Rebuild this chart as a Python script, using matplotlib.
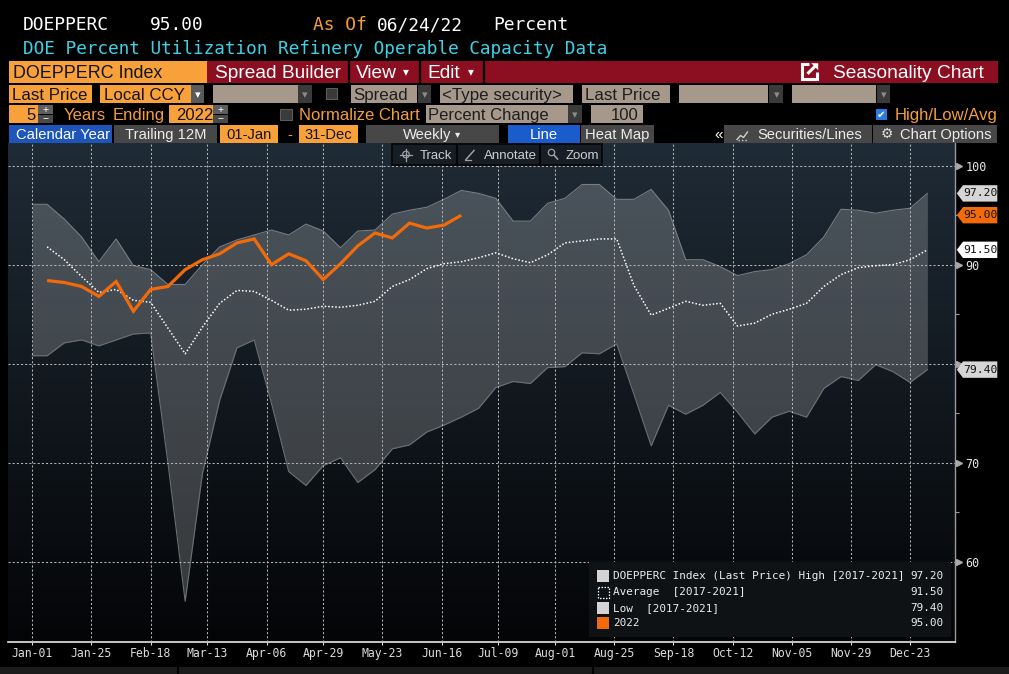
import numpy as np
import pandas as pd
import matplotlib
matplotlib.use("Agg")
import matplotlib.pyplot as plt
import matplotlib.dates as mdates
from matplotlib.patches import Rectangle, Polygon, Circle
from matplotlib.transforms import blended_transform_factory

plt.rcParams['font.family'] = ['Liberation Sans', 'DejaVu Sans']
MONO = ['DejaVu Sans Mono', 'DejaVu Sans']
SANS = ['Liberation Sans', 'DejaVu Sans']

# ---------------- data ----------------
ticker = "DOEPPERC"
last_value_text = "95.00"
title = "DOE Percent Utilization Refinery Operable Capacity Data"
as_of = "06/24/22"
units = "Percent"
first_week = "2022-01-07"
n_weeks = 52
band_start = "2022-01-01"
band_start_high = 96.1
band_start_low = 80.8

high_2017_2021 = [96.1, 94.6, 92.8, 90.3, 92.6, 89.9, 89.5, 88.0, 88.0, 90.0,
                  91.8, 92.5, 93.0, 93.5, 93.0, 94.1, 93.4, 91.7, 93.4, 93.5,
                  95.1, 95.5, 95.8, 96.6, 97.5, 97.2, 96.7, 94.4, 94.4, 96.2,
                  96.7, 98.1, 98.1, 96.6, 96.6, 97.6, 95.5, 90.5, 90.5, 89.8,
                  88.9, 89.3, 89.5, 90.1, 91.0, 92.8, 95.6, 95.5, 95.2, 95.5,
                  95.7, 97.2]
low_2017_2021 = [80.8, 82.1, 82.4, 81.8, 82.4, 83.0, 83.1, 70.0, 56.0, 68.9,
                 76.3, 81.6, 82.4, 76.0, 69.1, 67.7, 69.7, 70.5, 68.0, 69.3,
                 71.4, 71.8, 73.1, 73.8, 74.6, 75.5, 77.6, 78.2, 78.0, 79.6,
                 79.7, 81.1, 81.0, 82.0, 76.9, 71.7, 75.8, 74.9, 75.8, 77.1,
                 75.1, 72.9, 74.6, 75.2, 74.6, 77.5, 78.7, 78.3, 79.9, 79.2,
                 78.1, 79.4]
avg_2017_2021 = [91.8, 90.5, 88.8, 87.2, 87.5, 86.4, 86.2, 83.6, 81.0, 83.7,
                 86.1, 87.4, 87.3, 86.4, 85.4, 85.5, 85.8, 85.7, 85.9, 86.3,
                 87.8, 88.5, 89.6, 90.1, 90.3, 90.7, 91.2, 90.6, 90.2, 91.0,
                 92.2, 92.4, 92.6, 92.6, 87.9, 84.9, 85.6, 86.3, 85.9, 86.1,
                 83.8, 84.1, 85.0, 85.5, 86.1, 87.8, 89.0, 89.7, 89.9, 90.0,
                 90.5, 91.5]
y2022 = [88.4, 88.2, 87.8, 86.8, 88.3, 85.3, 87.5, 87.8, 89.5, 90.5,
         91.1, 92.2, 92.6, 90.0, 91.1, 90.4, 88.5, 90.1, 91.9, 93.2,
         92.7, 94.2, 93.7, 94.0, 95.0]

tick_dates = ["2022-01-01", "2022-01-25", "2022-02-18", "2022-03-13", "2022-04-06",
              "2022-04-29", "2022-05-23", "2022-06-16", "2022-07-09", "2022-08-01",
              "2022-08-25", "2022-09-18", "2022-10-12", "2022-11-05", "2022-11-29",
              "2022-12-23"]
tick_labels = ["Jan-01", "Jan-25", "Feb-18", "Mar-13", "Apr-06", "Apr-29", "May-23",
               "Jun-16", "Jul-09", "Aug-01", "Aug-25", "Sep-18", "Oct-12", "Nov-05",
               "Nov-29", "Dec-23"]
y_ticks = [60, 70, 80, 90, 100]
y_tick_labels = ["60", "70", "", "90", "100"]   # 80 is hidden behind the 79.40 tag
y_minor = [65, 75, 85, 95]
legend_labels = ["DOEPPERC Index (Last Price) High [2017-2021]", "Average  [2017-2021]",
                 "Low  [2017-2021]", "2022"]

# ---------------- figure ----------------
W, H = 1009, 674
fig = plt.figure(figsize=(W / 100, H / 100), dpi=100, facecolor='black')

L, R, T, B = 8, 955, 143, 642
ax = fig.add_axes([L / W, (H - B) / H, (R - L) / W, (B - T) / H])
ax.set_facecolor('black')

weeks = pd.date_range(first_week, periods=n_weeks, freq="7D")
band_dates = pd.DatetimeIndex([pd.Timestamp(band_start)]).append(weeks)
band_hi = [band_start_high] + high_2017_2021
band_lo = [band_start_low] + low_2017_2021

# gradient background
g = np.linspace(0, 1, 256)[:, None, None]
top = np.array([31, 43, 54]) / 255.0
bot = np.array([4, 5, 7]) / 255.0
img = top[None, None, :] * (1 - g) + bot[None, None, :] * g
ax.imshow(img, extent=[0, 1, 0, 1], transform=ax.transAxes, aspect='auto',
          zorder=0, interpolation='bilinear')

ax.fill_between(band_dates, band_lo, band_hi, color='white', alpha=0.2, lw=0, zorder=1)
ax.plot(band_dates, band_hi, color='#767d83', lw=0.8, zorder=1.5)
ax.plot(band_dates, band_lo, color='#6a7075', lw=0.8, zorder=1.5)
ax.plot(weeks, avg_2017_2021, color='white', lw=1.1, linestyle=(0, (1, 1.3)), zorder=4)
ax.plot(weeks[:len(y2022)], y2022, color='#f26a0a', lw=2.3, zorder=5,
        solid_joinstyle='miter', solid_capstyle='butt')

base = pd.Timestamp("2022-01-01")
ax.set_xlim(mdates.date2num(base - pd.Timedelta(days=9.85)),
            mdates.date2num(base + pd.Timedelta(days=374.2)))
ax.set_ylim(51.89, 102.29)

ax.set_xticks(mdates.date2num(pd.to_datetime(tick_dates)))
ax.set_xticklabels(tick_labels, family=MONO, fontsize=8.3, color='#e6e6e6')
ax.yaxis.tick_right()
ax.set_yticks(y_ticks)
ax.set_yticklabels(y_tick_labels, family=MONO, fontsize=8.5, color='#e6e6e6')
ax.set_yticks(y_minor, minor=True)
ax.tick_params(axis='x', colors='#dcdcdc', length=2.2, width=0.8, pad=1.3)
ax.tick_params(axis='y', which='major', length=0, pad=7.5)
ax.tick_params(axis='y', which='minor', length=3, width=0.8, colors='#9a9a9a')
ax.grid(True, which='major', color='#b4b4b4', linestyle=(0, (2, 2)), linewidth=0.75)
ax.set_axisbelow(False)
for s in ['top', 'left']:
    ax.spines[s].set_visible(False)
ax.spines['bottom'].set_color('#e6e6e6')
ax.spines['bottom'].set_linewidth(1.2)
ax.spines['right'].set_color('#9a9a9a')
ax.spines['right'].set_linewidth(1.0)

btr = blended_transform_factory(ax.transAxes, ax.transData)
ax.plot([1.0045] * len(y_ticks), y_ticks, linestyle='none', marker='>', markersize=5,
        color='#a8a8a8', transform=btr, clip_on=False, zorder=6)

# ---------------- overlay (UI) ----------------
ov = fig.add_axes([0, 0, 1, 1], zorder=10)
ov.set_xlim(0, W)
ov.set_ylim(H, 0)
ov.axis('off')
ov.patch.set_visible(False)

ORANGE = '#f8a13a'
TAN = '#a6998b'
RED = '#8b0e21'
GRAY = '#474747'
DARKARR = '#3a3a3a'


def box(x0, y0, x1, y1, fc, ec='none', lw=0, z=1):
    ov.add_patch(Rectangle((x0, y0), x1 - x0, y1 - y0, fc=fc, ec=ec, lw=lw, zorder=z))


def txt(x, y, s, size, color, ha='left', family=SANS, va='baseline', z=3):
    ov.text(x, y, s, fontsize=size, color=color, ha=ha, va=va, family=family, zorder=z)


def arrowbox(x0, x1, y0, y1, fc=DARKARR, ac='#8c8c8c'):
    box(x0, y0, x1, y1, fc)
    txt((x0 + x1) / 2, (y0 + y1) / 2 + 0.5, '\u25be', 8, ac, ha='center', va='center',
        family=['DejaVu Sans'])


def plusminus(x0, x1, y0, y1):
    ym = (y0 + y1) / 2
    box(x0, y0, x1, ym - 0.4, '#5e5e5e')
    box(x0, ym + 0.4, x1, y1, '#4a4a4a')
    txt((x0 + x1) / 2, (y0 + ym) / 2, '+', 7.5, 'white', ha='center', va='center')
    txt((x0 + x1) / 2, (ym + y1) / 2, '\u2212', 7.5, 'white', ha='center', va='center')


# Row 1 & 2 header
txt(22.7, 30, ticker, 12.9, 'white', family=MONO)
txt(150, 30, last_value_text, 12.9, 'white', family=MONO)
txt(312.7, 30, "As Of", 12.9, '#f59e3a', family=MONO)
txt(376.7, 30, as_of, 12.9, 'white', family=MONO)
txt(493, 30, units, 12.9, 'white', family=MONO)
txt(22.7, 54, title, 12.8, '#3fd0e6', family=MONO)

# Row 3
box(9, 60.7, 207.3, 82.7, ORANGE)
txt(12.7, 78.5, "DOEPPERC Index", 12.9, '#141414')
box(207.3, 60.7, 997.7, 82.7, RED)
for xs in [348.8, 420.2, 484.0]:
    ov.plot([xs, xs], [60.7, 82.7], color='black', lw=1.6, zorder=2)
txt(215, 77.5, "Spread Builder", 13.8, 'white')
txt(356, 77.5, "View", 13.8, 'white')
txt(406, 72, '\u25be', 8.5, 'white', ha='center', va='center', family=['DejaVu Sans'])
txt(427.7, 77.5, "Edit", 13.8, 'white')
txt(470.5, 72, '\u25be', 8.5, 'white', ha='center', va='center', family=['DejaVu Sans'])
txt(833, 77.5, "Seasonality Chart", 13.8, 'white')
ov.plot([808.5, 802, 802, 816.5, 816.5], [64.3, 64.3, 78.8, 78.8, 72.3], color='white',
        lw=2.2, zorder=3, solid_joinstyle='miter', solid_capstyle='butt')
ov.plot([807.5, 815.5], [73.8, 65.8], color='white', lw=2.2, zorder=3, solid_capstyle='butt')
ov.add_patch(Polygon([(818.2, 63.2), (811.2, 63.2), (818.2, 70.2)], closed=True,
                     fc='white', ec='none', zorder=3))

# Row 4
y0, y1, bl = 85, 103.3, 100
box(9, y0, 91.7, y1, ORANGE); txt(12, bl, "Last Price", 12.2, '#141414')
box(100, y0, 190.7, y1, ORANGE); txt(104, bl, "Local CCY", 12.2, '#141414')
arrowbox(190.7, 204, y0, y1, fc='#5a5a5a', ac='white')
box(213, y0, 297.7, y1, TAN); arrowbox(297.7, 311.7, y0, y1)
box(326, 88.3, 336.7, 99.3, '#3a3a3a', ec='#5c5c5c', lw=0.8)
box(350.7, y0, 416.7, y1, TAN); txt(353.5, bl, "Spread", 12.2, '#1e1e1e')
arrowbox(417.7, 431, y0, y1)
box(440, y0, 572.7, y1, TAN); txt(442, bl, "<Type security>", 12.2, '#1e1e1e')
box(582, y0, 670, y1, TAN); txt(585, bl, "Last Price", 12.2, '#1e1e1e')
box(679, y0, 768.3, y1, TAN); arrowbox(769.3, 783.3, y0, y1)
box(791.7, y0, 876, y1, TAN); arrowbox(876.7, 890, y0, y1)

# Row 5
y0, y1, bl = 105, 123.3, 120
box(9, y0, 37.7, y1, ORANGE); txt(35.5, bl, "5", 12, '#141414', ha='right')
plusminus(38.3, 52.7, y0, y1)
txt(63.3, bl, "Years", 12, '#f59e3a')
txt(113, bl, "Ending", 12, '#f59e3a')
box(169.3, y0, 213.3, y1, ORANGE); txt(176, bl, "2022", 12, '#141414')
plusminus(213.3, 227.7, y0, y1)
box(280, 109, 291.7, 120, '#3a3a3a', ec='#5c5c5c', lw=0.8)
txt(299, bl, "Normalize Chart", 12, '#f59e3a')
box(425.7, y0, 567.7, y1, TAN); txt(428, bl, "Percent Change", 12, '#1e1e1e')
arrowbox(568.3, 581.7, y0, y1)
box(591, y0, 642.7, y1, TAN); txt(639, bl, "100", 12, '#1e1e1e', ha='right')
box(875.7, 109.3, 886.7, 120.3, '#2a7be0')
txt(881.2, 115, '\u2714', 7.5, 'white', ha='center', va='center', family=['DejaVu Sans'])
txt(894.3, bl, "High/Low/Avg", 12, '#f59e3a')

# Row 6
y0, y1, bl = 125, 143.3, 139
box(9, y0, 112.3, y1, '#1d55b8'); txt(16, bl, "Calendar Year", 10.6, 'white')
box(114, y0, 217.3, y1, GRAY); txt(165.7, bl, "Trailing 12M", 10.6, '#ececec', ha='center')
box(220, y0, 278.3, y1, ORANGE); txt(249, bl, "01-Jan", 10.6, '#141414', ha='center')
txt(289.5, bl, "-", 10.6, '#f59e3a', ha='center')
box(299.3, y0, 358.3, y1, ORANGE); txt(328.8, bl, "31-Dec", 10.6, '#141414', ha='center')
box(365.7, y0, 499.3, y1, GRAY); txt(403, bl, "Weekly", 10.6, '#ececec')
txt(458, 134.5, '\u25be', 7.5, '#ececec', ha='center', va='center', family=['DejaVu Sans'])
box(507.5, y0, 580, y1, '#1a5ccc'); txt(544, bl, "Line", 10.6, 'white', ha='center')
box(581, y0, 654, y1, GRAY); txt(617.5, bl, "Heat Map", 10.6, '#ececec', ha='center')
txt(718.7, bl, "\u00ab", 11, 'white', ha='center')
box(724, y0, 871.7, y1, GRAY); txt(757.3, bl, "Securities/Lines", 10.6, '#ececec')
ov.plot([737, 740.5, 743.5, 747.5], [139.5, 135.5, 137.5, 132], color='#d0d0d0', lw=1.0, zorder=3)
ov.plot([737.5, 741, 744.5, 748], [139.8, 139.8, 139.8, 139.8], color='#d0d0d0', lw=1.0,
        linestyle=(0, (1, 1.5)), zorder=3)
box(873.3, y0, 996.7, y1, GRAY)
txt(887, 134.3, '\u2699', 10, '#e0e0e0', ha='center', va='center', family=['DejaVu Sans'])
txt(900, bl, "Chart Options", 10.6, '#ececec')

# chart toolbar overlay
box(392.3, 144, 602.3, 165.3, '#161d24', ec='#050505', lw=1.2, z=5)
for xs in [456.7, 540.0]:
    ov.plot([xs, xs], [144.5, 164.8], color='#050505', lw=1.5, zorder=6)
tb = '#cfcfcf'
txt(419.3, 159.3, "Track", 9.5, tb, z=6)
txt(484, 159.3, "Annotate", 9.5, tb, z=6)
txt(566, 159.3, "Zoom", 9.5, tb, z=6)
ov.add_patch(Circle((406, 154.5), 3.3, fill=False, ec='#a0a0a0', lw=0.9, zorder=6))
ov.plot([400, 412], [154.5, 154.5], color='#a0a0a0', lw=0.9, zorder=6)
ov.plot([406, 406], [148.5, 160.5], color='#a0a0a0', lw=0.9, zorder=6)
ov.plot([466, 474], [159.5, 150.5], color='#a0a0a0', lw=1.1, zorder=6)
ov.plot([465, 471], [160, 160], color='#a0a0a0', lw=0.9, zorder=6)
ov.add_patch(Circle((551.5, 152.5), 3.2, fill=False, ec='#a0a0a0', lw=0.9, zorder=6))
ov.plot([554, 557.5], [155, 159], color='#a0a0a0', lw=1.2, zorder=6)


# value tags on right axis
def ypix(v):
    return H - ax.transData.transform((ax.get_xlim()[0], v))[1]


tags = [(high_2017_2021[-1], '#d6d6d6', '#111111'),
        (y2022[-1], '#f26a0a', '#111111'),
        (avg_2017_2021[-1], '#ffffff', '#111111'),
        (low_2017_2021[-1], '#d6d6d6', '#111111')]
for v, fc, tc in tags:
    yc = ypix(v)
    hh = 8.2
    ov.add_patch(Polygon([(956.8, yc), (963, yc - hh), (997.3, yc - hh), (997.3, yc + hh),
                          (963, yc + hh)], closed=True, fc=fc, ec='none', zorder=7))
    txt(980.5, yc, f"{v:.2f}", 8.2, tc, ha='center', va='center', family=MONO, z=8)

# legend
box(589.3, 561.7, 950.7, 637.3, '#0e1215', z=5)
rows_y = [575.7, 592.0, 607.8, 623.4]
leg_vals = [high_2017_2021[-1], avg_2017_2021[-1], low_2017_2021[-1], y2022[-1]]
leg_fc = ['#d4d4d4', None, '#d4d4d4', '#f26a0a']
for yy, lab, val, fc in zip(rows_y, legend_labels, leg_vals, leg_fc):
    if fc is None:
        ov.add_patch(Rectangle((597.8, yy - 5.5), 11, 11, fill=False, ec='white', lw=0.9,
                               linestyle=(0, (1.2, 1.2)), zorder=6))
    else:
        box(597.3, yy - 6, 609.3, yy + 6, fc, z=6)
    txt(613.3, yy, lab, 7.9, '#ececec', va='center', family=MONO, z=6)
    txt(943.3, yy, f"{val:.2f}", 7.9, '#ececec', ha='right', va='center', family=MONO, z=6)

# bottom strip
box(0, 667, W, H, '#1b1b1b')
for xs in [178, 593]:
    ov.plot([xs, xs], [667, H], color='black', lw=1.5, zorder=2)

fig.savefig("out.png", dpi=100, facecolor='black')
